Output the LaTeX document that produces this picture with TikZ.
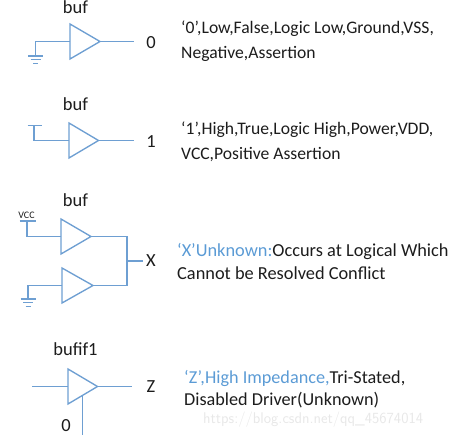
\documentclass[tikz,border=0pt]{standalone}
\usepackage{fontspec}
\setmainfont{Carlito}
\definecolor{wire}{HTML}{6E9FD2}
\definecolor{bluetxt}{HTML}{5B9BD5}
\definecolor{ink}{HTML}{1C1C1C}
\newcommand{\bufgate}[4]{% name, left x, top y, tip x
  \coordinate (#1t) at (#2,#3);
  \coordinate (#1b) at (#2,#3+35);
  \coordinate (#1o) at (#4,#3+17.5);
  \coordinate (#1i) at (#2,#3+17.5);
  \draw[wireline,line join=miter] (#1t) -- (#1o) -- (#1b) -- cycle;
}
\newcommand{\gndsym}[2]{% x, y
  \draw[wireline] (#1-7.5,#2) -- (#1+7.5,#2);
  \draw[wireline] (#1-5,#2+3.6) -- (#1+5,#2+3.6);
  \draw[wireline] (#1-2.5,#2+7.2) -- (#1+2.5,#2+7.2);
}
\tikzset{
  wireline/.style={draw=wire,line width=1.35pt},
  lab/.style={text=ink,font=\fontsize{18.5}{18.5}\selectfont,inner sep=0pt},
  para/.style={text=ink,inner sep=0pt,anchor=north west,align=left},
}
\begin{document}
\begin{tikzpicture}[x=1pt,y=-1pt]
\useasboundingbox (0,0) rectangle (455,438);
% row 1
\node[lab] (buf1) at (75.5,7) {buf};
\bufgate{a}{70}{24}{100}
\coordinate (aout) at (134,41.5);
\coordinate (acor) at (35.5,41.5);
\coordinate (agnd) at (35.5,56);
\draw[wireline] (ai) -- (acor) -- (agnd);
\draw[wireline] (ao) -- (aout);
\gndsym{35.5}{56}
\node[lab] (v0) at (151,42.5) {0};
\node[para,font=\fontsize{17.6}{25}\selectfont] (t0) at (181,21) {‘0’,Low,False,Logic Low,Ground,VSS,\\Negative,Assertion};
% row 2
\node[lab] (buf2) at (75.5,104) {buf};
\bufgate{b}{69}{123}{98.5}
\coordinate (bout) at (134,140.5);
\coordinate (bcor) at (34,140.5);
\coordinate (btop) at (34,125.5);
\coordinate (bl) at (27.5,125.5);
\coordinate (br) at (41.5,125.5);
\draw[wireline] (bi) -- (bcor) -- (btop);
\draw[wireline] (bl) -- (br);
\draw[wireline] (bo) -- (bout);
\node[lab] (v1) at (151,141.5) {1};
\node[para,font=\fontsize{17.6}{25.5}\selectfont] (t1) at (181,121.5) {‘1’,High,True,Logic High,Power,VDD,\\VCC,Positive Assertion};
% row 3
\node[lab] (buf3) at (75.5,200) {buf};
\node[text=ink,font=\fontsize{10}{10}\selectfont,inner sep=0pt] (vcc) at (26.5,215.5) {VCC};
\bufgate{c}{61}{219}{91}
\bufgate{d}{62}{268}{93}
\coordinate (ccor) at (27,236.5);
\coordinate (ctop) at (27,221);
\coordinate (cl) at (19.5,221);
\coordinate (cr) at (35.5,221);
\draw[wireline] (ci) -- (ccor) -- (ctop);
\draw[wireline] (cl) -- (cr);
\coordinate (dcor) at (28,285.5);
\coordinate (dgnd) at (28,299);
\draw[wireline] (di) -- (dcor) -- (dgnd);
\gndsym{28}{299}
\coordinate (m1) at (127,236.5);
\coordinate (m2) at (127,285.5);
\coordinate (mm) at (127,261);
\coordinate (mo) at (143,261);
\draw[wireline] (co) -- (m1) -- (m2) -- (do);
\draw[wireline] (mm) -- (mo);
\node[lab] (vx) at (151,260.5) {X};
\node[para,font=\fontsize{18.35}{23}\selectfont] (t3) at (177,243) {\textcolor{bluetxt}{‘X’Unknown:}Occurs at Logical Which\\Cannot be Resolved Conflict};
% row 4
\node[lab] (buf4) at (75.5,349) {bufif1};
\bufgate{e}{68}{369}{97.5}
\coordinate (ein) at (32,386.5);
\coordinate (eout) at (132,386.5);
\coordinate (een) at (82.5,396);
\coordinate (eend) at (82.5,435);
\draw[wireline] (ein) -- (ei);
\draw[wireline] (eo) -- (eout);
\draw[wireline] (een) -- (eend);
\node[lab] (vz) at (151,387) {Z};
\node[lab] (ven) at (66,426) {0};
\node[para,font=\fontsize{18.2}{22.5}\selectfont] (t4) at (184,370) {\textcolor{bluetxt}{‘Z’,High Impedance,}Tri-Stated,\\Disabled Driver(Unknown)};
% watermark
\node[text=black!9,font=\fontsize{15.5}{16}\selectfont\sffamily,inner sep=0pt,anchor=west] (wm) at (203,420) {https://blog.csdn.net/qq\_45674014};
\end{tikzpicture}
\end{document}
